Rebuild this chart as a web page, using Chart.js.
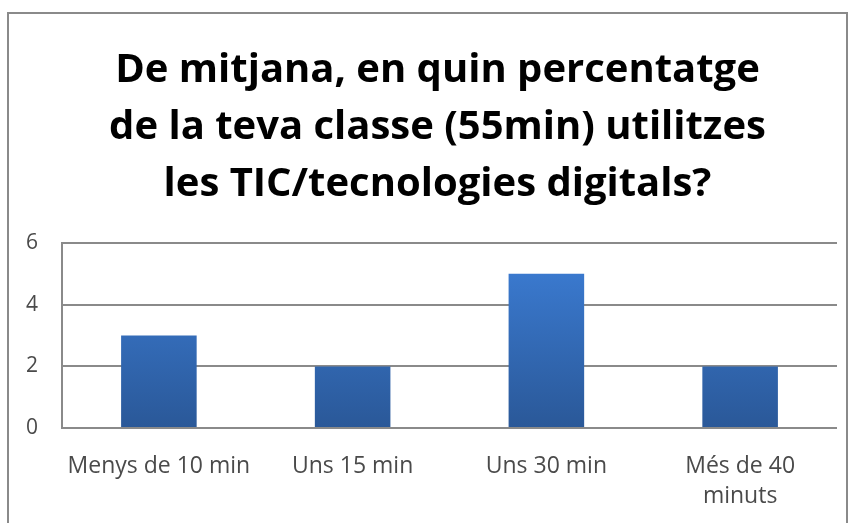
<!DOCTYPE html>
<html>
<head>
<meta charset="utf-8">
<script src="https://cdn.jsdelivr.net/npm/chart.js@4"></script>
<style>
  html, body { margin: 0; padding: 0; background: #fff; }
  #wrap { position: relative; width: 856px; height: 523px; overflow: hidden; }
  #frame { position: absolute; left: 7px; top: 12px; width: 841px; height: 530px; border: 2px solid #8a8a8a; box-sizing: border-box; }
  canvas { position: absolute; left: 0; top: 0; }
</style>
</head>
<body>
<div id="wrap">
  <div id="frame"></div>
  <canvas id="chart" width="856" height="523"></canvas>
</div>
<script>
// Chart data
const titleLines = [
    'De mitjana, en quin percentatge',
    'de la teva classe (55min) utilitzes',
    'les TIC/tecnologies digitals?'
];
const categories = [
    'Menys de 10 min',
    'Uns 15 min',
    'Uns 30 min',
    ['Més de 40', 'minuts']
];
const responses = [3, 2, 5, 2];
const yTicks = [0, 2, 4, 6];

// vertical blue gradient, lighter at the top
function barGradient(context) {
    const area = context.chart.chartArea;
    if (!area) return '#3268b8';
    const g = context.chart.ctx.createLinearGradient(0, area.top, 0, area.bottom);
    g.addColorStop(0, '#3d7fd8');
    g.addColorStop(1, '#2a5898');
    return g;
}

// title in the original sits a bit right of the canvas centre
const nudgeTitle = {
    id: 'nudgeTitle',
    afterLayout(chart) {
        if (chart.titleBlock) chart.titleBlock.left += 36;
    }
};

new Chart(document.getElementById('chart'), {
    type: 'bar',
    data: {
        labels: categories,
        datasets: [{
            data: responses,
            backgroundColor: barGradient,
            borderWidth: 0,
            categoryPercentage: 1,
            barPercentage: 0.39
        }]
    },
    plugins: [nudgeTitle],
    options: {
        responsive: false,
        animation: false,
        layout: { padding: { left: 2, right: 19, top: 42, bottom: 12 } },
        plugins: {
            legend: { display: false },
            tooltip: { enabled: false },
            title: {
                display: true,
                text: titleLines,
                color: '#000',
                font: { family: 'Open Sans', size: 40, weight: 'bold', lineHeight: 1.425 },
                padding: { top: 0, bottom: 30 }
            }
        },
        scales: {
            x: {
                // tick length (not drawn) used as the gap below the axis
                grid: { display: false, drawTicks: true, tickLength: 24 },
                border: { display: false },
                ticks: {
                    color: '#4a4a4a',
                    font: { family: 'Open Sans', size: 23, lineHeight: 1.28 },
                    padding: 0,
                    maxRotation: 0
                }
            },
            y: {
                min: 0,
                max: 6,
                afterBuildTicks: axis => { axis.ticks = yTicks.map(v => ({ value: v })); },
                grid: { color: '#8a8a8a', lineWidth: 2, drawTicks: false },
                border: { display: true, color: '#8a8a8a', width: 2 },
                ticks: {
                    color: '#4a4a4a',
                    font: { family: 'Open Sans', size: 21 },
                    padding: 24
                }
            }
        }
    }
});
</script>
</body>
</html>
